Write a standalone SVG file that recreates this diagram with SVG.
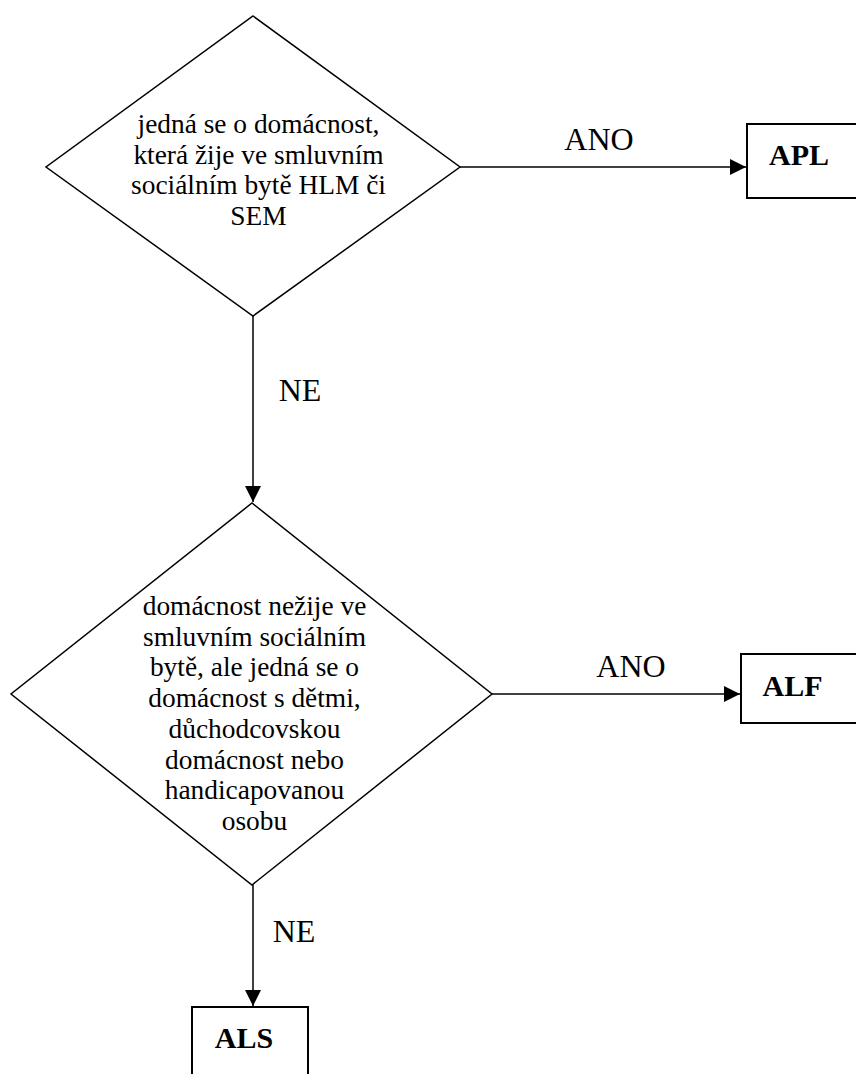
<svg xmlns="http://www.w3.org/2000/svg" width="856" height="1074" viewBox="0 0 856 1074">
<style>
.shape{fill:#fff;stroke:#000;stroke-width:1.5}
.box{fill:#fff;stroke:#000;stroke-width:2}
.line{fill:none;stroke:#000;stroke-width:1.5}
.dt{font-family:"Liberation Serif","Times New Roman",serif;font-size:27.4px;fill:#000;text-anchor:middle}
.lbl{font-family:"Liberation Serif","Times New Roman",serif;font-size:32px;fill:#000;text-anchor:middle}
.bt{font-family:"Liberation Serif","Times New Roman",serif;font-size:30px;font-weight:bold;fill:#000;text-anchor:middle}
</style>
<defs>
<marker id="arr" viewBox="0 0 16 16" refX="16" refY="8" markerWidth="16" markerHeight="16" markerUnits="userSpaceOnUse" orient="auto">
<path d="M0,0 L16,8 L0,16 Z" fill="#000"/>
</marker>
</defs>
<g id="connectors">
<line class="line" x1="460" y1="167" x2="746" y2="167" marker-end="url(#arr)"/>
<line class="line" x1="253" y1="316" x2="253" y2="502" marker-end="url(#arr)"/>
<line class="line" x1="492" y1="694" x2="740" y2="694" marker-end="url(#arr)"/>
<line class="line" x1="253" y1="885" x2="253" y2="1006" marker-end="url(#arr)"/>
<text class="lbl" x="599" y="150">ANO</text>
<text class="lbl" x="300" y="401">NE</text>
<text class="lbl" x="631" y="677">ANO</text>
<text class="lbl" x="294" y="942">NE</text>
</g>
<g id="d1">
<polygon class="shape" points="253,16 460,167 253,316 46,167"/>
<text class="dt" x="258.5" y="133.3">jedná se o domácnost,</text>
<text class="dt" x="258.5" y="163.8">která žije ve smluvním</text>
<text class="dt" x="258.5" y="194.3">sociálním bytě HLM či</text>
<text class="dt" x="258.5" y="224.8">SEM</text>
</g>
<g id="apl">
<rect class="box" x="747" y="124" width="120" height="74"/>
<text class="bt" x="799" y="165">APL</text>
</g>
<g id="d2">
<polygon class="shape" points="252,503 492,694 252,885 11,694"/>
<text class="dt" x="254.5" y="615">domácnost nežije ve</text>
<text class="dt" x="254.5" y="645.7">smluvním sociálním</text>
<text class="dt" x="254.5" y="676.4">bytě, ale jedná se o</text>
<text class="dt" x="254.5" y="707.1">domácnost s dětmi,</text>
<text class="dt" x="254.5" y="737.8">důchodcovskou</text>
<text class="dt" x="254.5" y="768.5">domácnost nebo</text>
<text class="dt" x="254.5" y="799.2">handicapovanou</text>
<text class="dt" x="254.5" y="830">osobu</text>
</g>
<g id="alf">
<rect class="box" x="741" y="654" width="120" height="69"/>
<text class="bt" x="792.5" y="696">ALF</text>
</g>
<g id="als">
<rect class="box" x="192" y="1007" width="116" height="80"/>
<text class="bt" x="244" y="1048">ALS</text>
</g>
</svg>
